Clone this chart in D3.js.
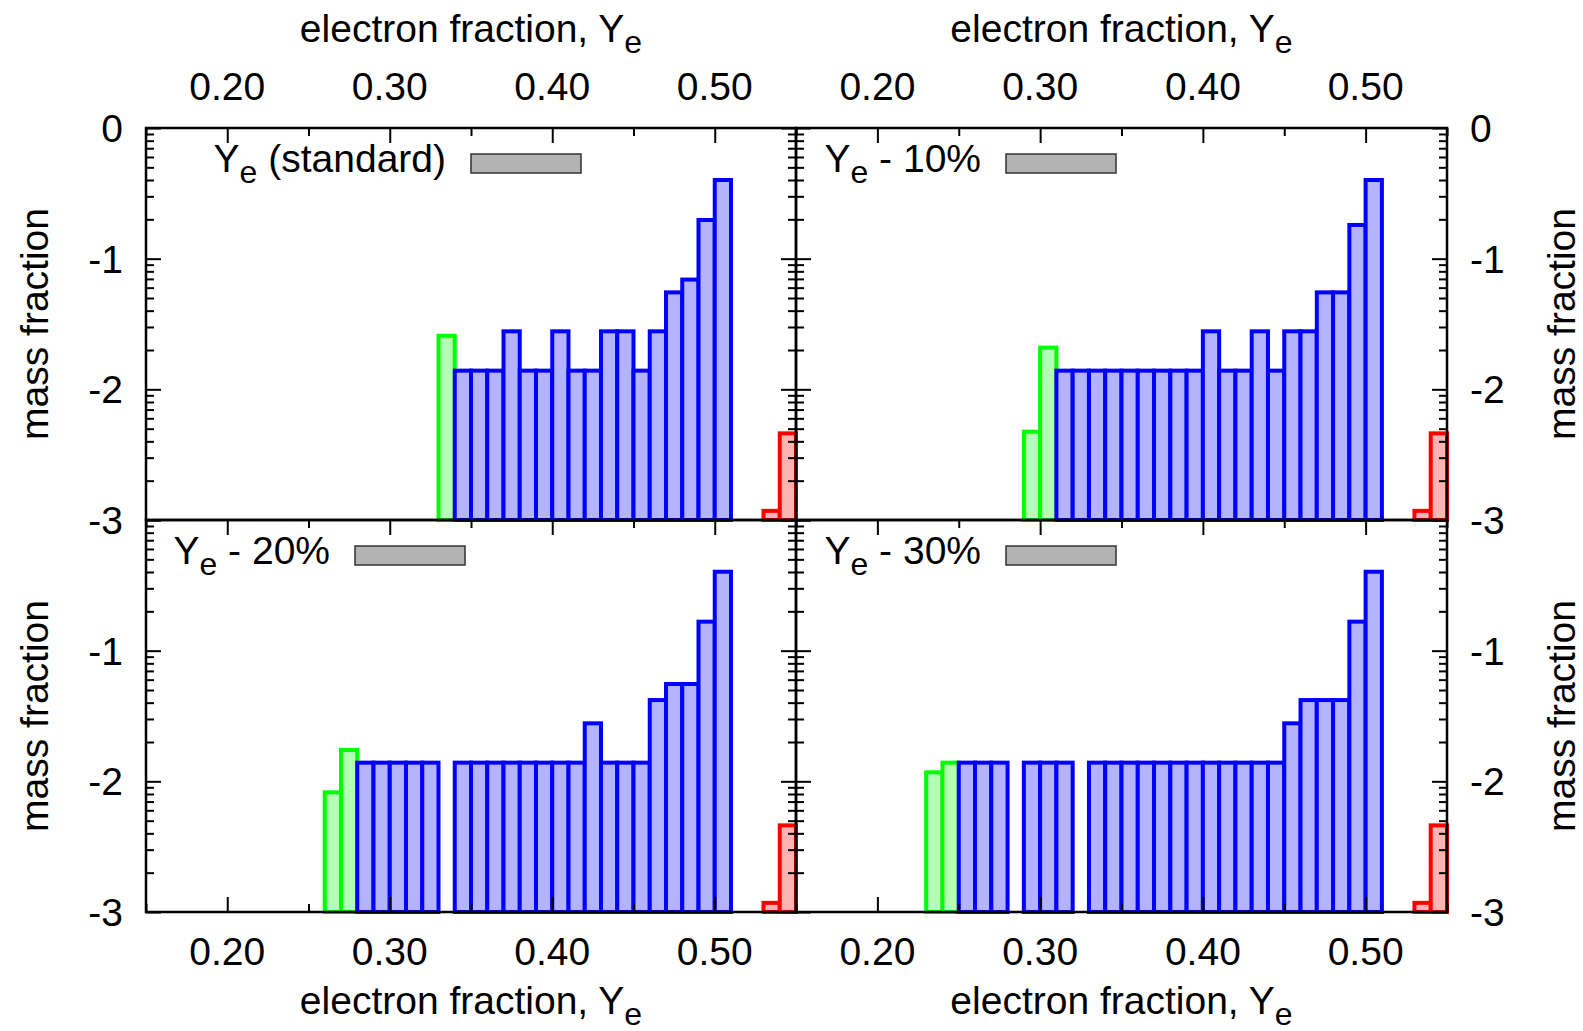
<!DOCTYPE html>
<html>
<head>
<meta charset="utf-8">
<script src="https://cdn.jsdelivr.net/npm/d3@7"></script>
<style>
  html, body { margin: 0; padding: 0; background: #fff; }
  svg { display: block; }
  text { font-family: "Liberation Sans", Arial, Helvetica, sans-serif; fill: #000; }
</style>
</head>
<body>
<svg id="chart" width="1583" height="1031"></svg>
<script>
// ---- data -------------------------------------------------------------
// Ye axis range and histogram bin width
const yeDomain = [0.15, 0.55];
const binWidth = 0.01;
// log10(mass fraction) axis range
const logDomain = [-3, 0];

// tick values
const yeMajorTicks = [0.20, 0.30, 0.40, 0.50];
const yeMinorTicks = [0.15, 0.25, 0.35, 0.45, 0.55];
const logMajorTicks = [-3, -2, -1, 0];
const logMinorFactors = [2, 3, 4, 5, 6, 7, 8, 9];

// model labels (after "Y_e")
const modelLabels = [" (standard)", " - 10%", " - 20%", " - 30%"];

// histogram bins: [left edge of Ye bin, log10 mass fraction]
const standardGreen = [[0.33, -1.59]];
const standardBlue = [
  [0.34, -1.857], [0.35, -1.857], [0.36, -1.857], [0.37, -1.556], [0.38, -1.857],
  [0.39, -1.857], [0.40, -1.556], [0.41, -1.857], [0.42, -1.857], [0.43, -1.556],
  [0.44, -1.556], [0.45, -1.857], [0.46, -1.556], [0.47, -1.258], [0.48, -1.160],
  [0.49, -0.704], [0.50, -0.398]
];
const standardRed = [[0.53, -2.93], [0.54, -2.337]];

const minus10Green = [[0.29, -2.324], [0.30, -1.681]];
const minus10Blue = [
  [0.31, -1.857], [0.32, -1.857], [0.33, -1.857], [0.34, -1.857], [0.35, -1.857],
  [0.36, -1.857], [0.37, -1.857], [0.38, -1.857], [0.39, -1.857], [0.40, -1.556],
  [0.41, -1.857], [0.42, -1.857], [0.43, -1.556], [0.44, -1.857], [0.45, -1.556],
  [0.46, -1.556], [0.47, -1.258], [0.48, -1.258], [0.49, -0.742], [0.50, -0.398]
];
const minus10Red = [[0.53, -2.93], [0.54, -2.337]];

const minus20Green = [[0.26, -2.084], [0.27, -1.760]];
const minus20Blue = [
  [0.28, -1.857], [0.29, -1.857], [0.30, -1.857], [0.31, -1.857], [0.32, -1.857],
  [0.34, -1.857], [0.35, -1.857], [0.36, -1.857], [0.37, -1.857], [0.38, -1.857],
  [0.39, -1.857], [0.40, -1.857], [0.41, -1.857], [0.42, -1.556], [0.43, -1.857],
  [0.44, -1.857], [0.45, -1.857], [0.46, -1.378], [0.47, -1.255], [0.48, -1.255],
  [0.49, -0.778], [0.50, -0.396]
];
const minus20Red = [[0.53, -2.93], [0.54, -2.337]];

const minus30Green = [[0.23, -1.931], [0.24, -1.857]];
const minus30Blue = [
  [0.25, -1.857], [0.26, -1.857], [0.27, -1.857],
  [0.29, -1.857], [0.30, -1.857], [0.31, -1.857],
  [0.33, -1.857], [0.34, -1.857], [0.35, -1.857], [0.36, -1.857], [0.37, -1.857],
  [0.38, -1.857], [0.39, -1.857], [0.40, -1.857], [0.41, -1.857], [0.42, -1.857],
  [0.43, -1.857], [0.44, -1.857], [0.45, -1.556], [0.46, -1.378], [0.47, -1.378],
  [0.48, -1.378], [0.49, -0.778], [0.50, -0.396]
];
const minus30Red = [[0.53, -2.93], [0.54, -2.337]];

// ---- layout -----------------------------------------------------------
const W = 1583, H = 1031;
const FONT = 39, SUB_FONT = 32, SUB_SHIFT = 11;
const colEdges = [[146, 796], [796, 1447]];
const rowEdges = [[128, 520], [520, 912]];
const keyOffsets = [325, 210, 209, 210];   // sample box left offset inside each panel

const series = [
  [standardGreen, standardBlue, standardRed],
  [minus10Green, minus10Blue, minus10Red],
  [minus20Green, minus20Blue, minus20Red],
  [minus30Green, minus30Blue, minus30Red]
];
const seriesStyle = [
  { stroke: "#00ff00", fill: "#b3ffb3" },
  { stroke: "#0000ff", fill: "#b3b3ff" },
  { stroke: "#ff0000", fill: "#ffb3b3" }
];

const svg = d3.select("#chart");
svg.append("rect").attr("width", W).attr("height", H).attr("fill", "#fff");

const logMinorTicks = [];
for (let d = logDomain[0]; d < logDomain[1]; d++) {
  logMinorFactors.forEach(k => logMinorTicks.push(d + Math.log10(k)));
}

// text with a "Y_e"-style subscript
function subscriptText(sel, before, sub, after) {
  sel.append("tspan").text(before);
  sel.append("tspan").attr("font-size", SUB_FONT).attr("dy", SUB_SHIFT).text(sub);
  if (after) sel.append("tspan").attr("font-size", FONT).attr("dy", -SUB_SHIFT).text(after);
}

function tickAxis(g, axisFn, scale, values, size) {
  g.call(axisFn(scale).tickValues(values).tickSize(size).tickFormat(""));
  g.select(".domain").remove();
  g.selectAll(".tick line").attr("stroke", "#000").attr("stroke-width", 2);
}

series.forEach((panelSeries, i) => {
  const col = i % 2, row = Math.floor(i / 2);
  const [x0, x1] = colEdges[col];
  const [y0, y1] = rowEdges[row];
  const x = d3.scaleLinear().domain(yeDomain).range([x0, x1]);
  const y = d3.scaleLinear().domain(logDomain).range([y1, y0]);
  const g = svg.append("g");

  // histogram bars
  panelSeries.forEach((bins, s) => {
    g.append("g").selectAll("rect").data(bins).join("rect")
      .attr("x", d => x(d[0]))
      .attr("width", d => x(d[0] + binWidth) - x(d[0]))
      .attr("y", d => y(d[1]))
      .attr("height", d => y(logDomain[0]) - y(d[1]))
      .attr("fill", seriesStyle[s].fill)
      .attr("stroke", seriesStyle[s].stroke)
      .attr("stroke-width", 4);
  });

  // key
  const keyX = x0 + keyOffsets[i];
  g.append("rect")
    .attr("x", keyX).attr("y", y0 + 26).attr("width", 110).attr("height", 19)
    .attr("fill", "#b3b3b3").attr("stroke", "#333").attr("stroke-width", 1.5);
  g.append("text")
    .attr("x", keyX - 25).attr("y", y0 + 44)
    .attr("text-anchor", "end").attr("font-size", FONT)
    .call(t => subscriptText(t, "Y", "e", modelLabels[i]));

  // ticks (all pointing inward)
  tickAxis(g.append("g").attr("transform", `translate(${x0},0)`), d3.axisRight, y, logMajorTicks, 15);
  tickAxis(g.append("g").attr("transform", `translate(${x0},0)`), d3.axisRight, y, logMinorTicks, 8);
  tickAxis(g.append("g").attr("transform", `translate(${x1},0)`), d3.axisLeft, y, logMajorTicks, 15);
  tickAxis(g.append("g").attr("transform", `translate(${x1},0)`), d3.axisLeft, y, logMinorTicks, 8);
  tickAxis(g.append("g").attr("transform", `translate(0,${y0})`), d3.axisBottom, x, yeMajorTicks, 15);
  tickAxis(g.append("g").attr("transform", `translate(0,${y0})`), d3.axisBottom, x, yeMinorTicks, 8);
  if (row === 1) {
    tickAxis(g.append("g").attr("transform", `translate(0,${y1})`), d3.axisTop, x, yeMajorTicks, 15);
    tickAxis(g.append("g").attr("transform", `translate(0,${y1})`), d3.axisTop, x, yeMinorTicks, 8);
  }

  // frame
  g.append("rect")
    .attr("x", x0).attr("y", y0).attr("width", x1 - x0).attr("height", y1 - y0)
    .attr("fill", "none").attr("stroke", "#000").attr("stroke-width", 2.5);

  // Ye tick labels and title (top row above, bottom row below)
  const labelY = row === 0 ? y0 - 28 : y1 + 53;
  g.append("g").selectAll("text").data(yeMajorTicks).join("text")
    .attr("x", d => x(d)).attr("y", labelY)
    .attr("text-anchor", "middle").attr("font-size", FONT)
    .text(d3.format(".2f"));
  g.append("text")
    .attr("x", (x0 + x1) / 2).attr("y", row === 0 ? 42 : 1014)
    .attr("text-anchor", "middle").attr("font-size", FONT)
    .call(t => subscriptText(t, "electron fraction, Y", "e", ""));

  // log mass fraction labels on the outer side
  const yLabels = row === 0 ? logMajorTicks : logMajorTicks.filter(v => v < 0);
  g.append("g").selectAll("text").data(yLabels).join("text")
    .attr("x", col === 0 ? x0 - 23 : x1 + 23)
    .attr("y", d => y(d)).attr("dy", "0.36em")
    .attr("text-anchor", col === 0 ? "end" : "start")
    .attr("font-size", FONT)
    .text(d => String(d));
  const titleX = col === 0 ? 48 : 1575;
  g.append("text")
    .attr("transform", `translate(${titleX},${(y0 + y1) / 2}) rotate(-90)`)
    .attr("text-anchor", "middle").attr("font-size", FONT)
    .text("mass fraction");
});
</script>
</body>
</html>
